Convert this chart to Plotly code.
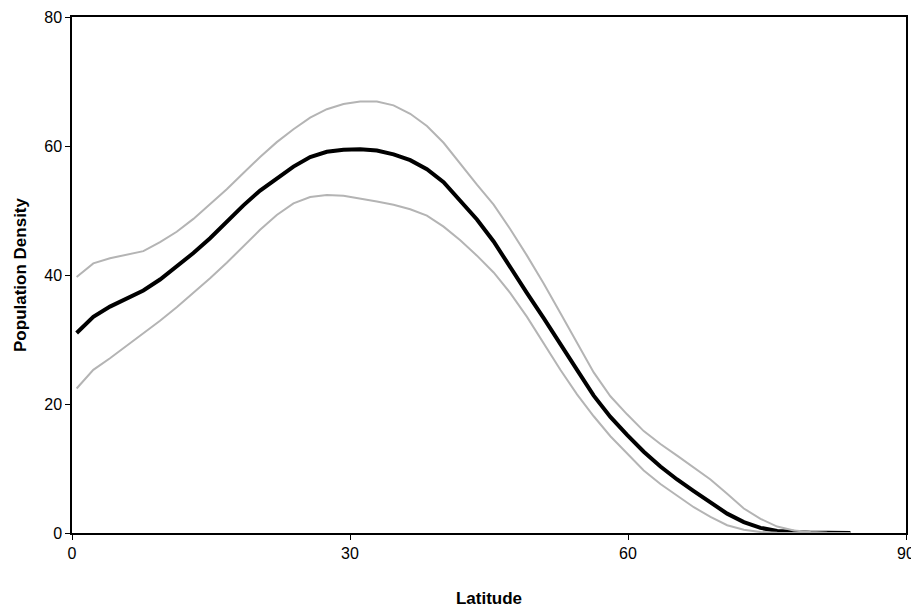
import plotly.graph_objects as go

latitude = [0.5, 2.3, 4.1, 5.9, 7.7, 9.5, 11.3, 13.1, 14.9, 16.7, 18.5, 20.3, 22.1, 23.9,
            25.7, 27.5, 29.3, 31.1, 32.9, 34.7, 36.5, 38.3, 40.1, 41.9, 43.7, 45.5, 47.3,
            49.1, 50.9, 52.7, 54.5, 56.3, 58.1, 59.9, 61.7, 63.5, 65.3, 67.1, 68.9, 70.7,
            72.5, 74.3, 76.1, 77.9, 79.7, 81.5, 83.3, 84.0]

density_mean = [31.0, 33.5, 35.1, 36.3, 37.6, 39.3, 41.3, 43.4, 45.7, 48.3, 50.8, 53.1, 55.0, 56.8,
                58.3, 59.1, 59.4, 59.5, 59.3, 58.7, 57.8, 56.4, 54.4, 51.6, 48.6, 45.2, 41.1,
                37.2, 33.3, 29.4, 25.3, 21.3, 18.0, 15.2, 12.6, 10.3, 8.3, 6.5, 4.7, 3.0,
                1.7, 0.8, 0.3, 0.1, 0.05, 0.02, 0.0, 0.0]

density_upper = [39.7, 41.8, 42.6, 43.1, 43.7, 45.1, 46.7, 48.7, 51.0, 53.3, 55.8, 58.3, 60.6, 62.6,
                 64.4, 65.7, 66.5, 66.9, 66.9, 66.3, 65.0, 63.1, 60.5, 57.2, 54.0, 50.9, 47.1,
                 43.0, 38.7, 34.1, 29.4, 24.9, 21.2, 18.4, 15.8, 13.8, 12.0, 10.1, 8.3, 6.1,
                 3.8, 2.2, 1.0, 0.4, 0.15, 0.05, 0.0, 0.0]

density_lower = [22.4, 25.3, 27.1, 29.0, 30.9, 32.9, 35.0, 37.2, 39.5, 41.9, 44.5, 47.0, 49.3, 51.1,
                 52.1, 52.4, 52.3, 51.9, 51.4, 50.9, 50.2, 49.2, 47.5, 45.4, 43.0, 40.4, 37.2,
                 33.5, 29.4, 25.3, 21.5, 18.1, 15.0, 12.4, 9.7, 7.6, 5.8, 4.0, 2.5, 1.2,
                 0.5, 0.15, 0.05, 0.0, 0.0, 0.0, 0.0, 0.0]

x_ticks = [0, 30, 60, 90]
y_ticks = [0, 20, 40, 60, 80]

fig = go.Figure()
fig.add_trace(go.Scatter(x=latitude, y=density_mean, mode="lines",
                         line=dict(color="#000000", width=4),
                         showlegend=False))
fig.add_trace(go.Scatter(x=latitude, y=density_upper, mode="lines",
                         line=dict(color="#b4b4b4", width=2),
                         showlegend=False, hoverinfo="skip"))
fig.add_trace(go.Scatter(x=latitude, y=density_lower, mode="lines",
                         line=dict(color="#b4b4b4", width=2),
                         showlegend=False, hoverinfo="skip"))

font_family = "Liberation Sans, Arial, sans-serif"

# page body has an 8px default margin, so the figure is sized 911x600
fig.update_layout(
    width=911, height=600,
    margin=dict(l=64, r=13, t=9, b=75),
    paper_bgcolor="white", plot_bgcolor="white",
    font=dict(family=font_family, size=16, color="black"),
    showlegend=False,
)
fig.update_xaxes(
    range=[0, 90], tickvals=x_ticks, ticktext=[str(v) for v in x_ticks],
    showgrid=False, zeroline=False, automargin=False,
    showline=True, linecolor="black", linewidth=1.5, mirror=True,
    ticks="outside", ticklen=5, tickcolor="black", tickwidth=1,
    tickfont=dict(size=16),
    title=dict(text="<b>Latitude</b>", font=dict(size=17, family=font_family), standoff=33),
)
fig.update_yaxes(
    range=[0, 80], tickvals=y_ticks, ticktext=[str(v) for v in y_ticks],
    showgrid=False, zeroline=False, automargin=False,
    showline=True, linecolor="black", linewidth=1.5, mirror=True,
    ticks="outside", ticklen=5, tickcolor="black", tickwidth=1,
    tickfont=dict(size=16),
    title=dict(text="<b>Population Density</b>", font=dict(size=17, family=font_family), standoff=13),
)

fig.write_html("out.html")
